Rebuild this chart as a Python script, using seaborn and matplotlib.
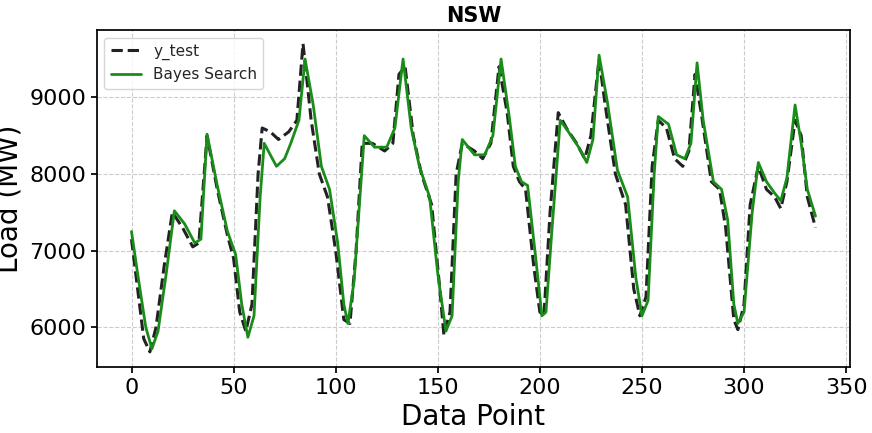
import matplotlib
matplotlib.use("Agg")
import matplotlib.pyplot as plt
import seaborn as sns
import pandas as pd

# values
test_x = [0, 3, 6, 9, 12, 16, 20, 25, 30, 33, 37, 42, 47, 50, 53, 56, 59, 62, 64, 68, 72, 77, 81, 84,
          88, 92, 96, 100, 104, 107, 110, 113, 118, 124, 128, 131, 134, 138, 142, 147, 151, 153, 156,
          159, 162, 168, 172, 176, 180, 184, 187, 190, 193, 197, 200, 202, 205, 209, 213, 218, 222,
          225, 229, 232, 237, 242, 246, 249, 252, 255, 258, 262, 266, 270, 273, 276, 279, 284, 288,
          291, 295, 297, 300, 303, 307, 311, 315, 318, 321, 325, 328, 331, 335]
test_y = [7150, 6500, 5850, 5680, 6000, 6800, 7500, 7300, 7050, 7100, 8500, 7800, 7200, 6900, 6200,
          5950, 6300, 8000, 8600, 8550, 8450, 8550, 8700, 9700, 8700, 8000, 7700, 7000, 6100, 6050,
          7000, 8400, 8400, 8300, 8400, 9300, 9400, 8500, 8000, 7600, 6500, 5900, 6200, 8000, 8400,
          8300, 8200, 8400, 9400, 8800, 8100, 7900, 7800, 6800, 6200, 6150, 7500, 8800, 8600, 8400,
          8200, 8500, 9500, 8900, 8000, 7600, 6500, 6150, 6400, 8100, 8700, 8600, 8200, 8100, 8300,
          9300, 8800, 7900, 7800, 7300, 6100, 5970, 6300, 7600, 8100, 7800, 7700, 7550, 7900, 8700,
          8500, 7700, 7300]

bayes_x = [0, 3, 7, 10, 13, 17, 21, 26, 31, 34, 37, 42, 47, 51, 54, 57, 60, 63, 65, 68, 71, 75, 78,
           82, 85, 89, 93, 97, 101, 104, 106, 109, 114, 119, 125, 129, 133, 137, 141, 146, 150, 154,
           157, 160, 162, 168, 173, 177, 181, 185, 188, 191, 194, 198, 201, 203, 206, 210, 214, 219,
           223, 226, 229, 233, 238, 243, 247, 250, 253, 256, 258, 263, 267, 271, 274, 277, 280, 285,
           289, 292, 295, 297, 300, 304, 307, 311, 315, 318, 321, 325, 328, 331, 335]
bayes_y = [7250, 6700, 6000, 5720, 5950, 6700, 7520, 7350, 7100, 7150, 8520, 7850, 7250, 6950, 6300,
           5870, 6150, 7700, 8400, 8250, 8100, 8200, 8400, 8700, 9500, 8900, 8100, 7800, 7100, 6300,
           6050, 6600, 8500, 8350, 8350, 8600, 9500, 8600, 8100, 7700, 6700, 5950, 6150, 7900, 8450,
           8250, 8250, 8500, 9500, 8750, 8100, 7900, 7850, 6900, 6150, 6200, 7300, 8700, 8550, 8350,
           8150, 8450, 9550, 8950, 8050, 7700, 6650, 6150, 6350, 8000, 8750, 8650, 8250, 8200, 8400,
           9450, 8700, 7900, 7800, 7400, 6300, 6050, 6200, 7500, 8150, 7900, 7750, 7650, 7950, 8900,
           8400, 7800, 7450]

test_df = pd.DataFrame({"x": test_x, "y": test_y})
bayes_df = pd.DataFrame({"x": bayes_x, "y": bayes_y})

sns.set_theme(style="white")
plt.rcParams["font.family"] = ["DejaVu Sans"]
fig, ax = plt.subplots(figsize=(8.72, 4.33), dpi=100)
fig.subplots_adjust(left=0.111, right=0.975, top=0.931, bottom=0.152)
sns.lineplot(data=test_df, x="x", y="y", ax=ax, color="#222222", linestyle="--",
             linewidth=2.2, label="y_test")
sns.lineplot(data=bayes_df, x="x", y="y", ax=ax, color="#1a8c1a", linewidth=2,
             label="Bayes Search")

ax.set_title("NSW", fontsize=15, fontweight="bold", color="black")
ax.set_xlabel("Data Point", fontsize=20, color="black")
ax.set_ylabel("Load (MW)", fontsize=20, color="black")
ax.tick_params(labelsize=16, colors="black", length=4, bottom=True, left=True)
ax.set_xlim(-17, 352)
ax.set_ylim(5480, 9880)
ax.set_yticks([6000, 7000, 8000, 9000])
ax.grid(True, linestyle="--", color="#cccccc", linewidth=0.8)
for s in ax.spines.values():
    s.set_color("black")
ax.legend(loc="upper left", fontsize=11)
plt.savefig("out.png", dpi=100)
